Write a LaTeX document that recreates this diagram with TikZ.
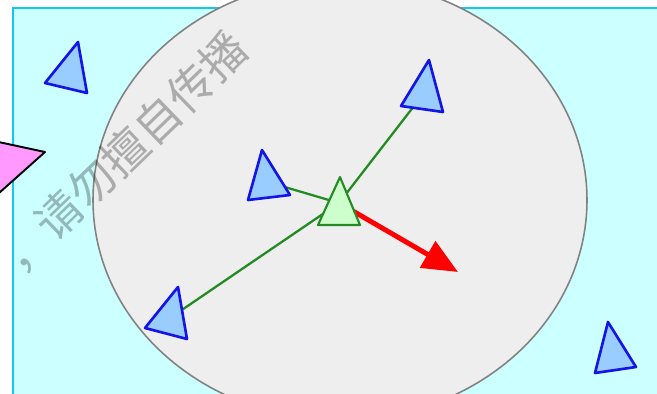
\documentclass[tikz,border=0pt]{standalone}
\usepackage{fontspec}
\newfontfamily\cjk{Noto Sans CJK SC}
\usepackage{xcolor}
\usetikzlibrary{arrows.meta}

\definecolor{bgcyan}{RGB}{204,255,255}
\definecolor{bordercyan}{RGB}{20,200,235}
\definecolor{zonegray}{RGB}{238,238,238}
\definecolor{zoneline}{RGB}{130,130,130}
\definecolor{boidfill}{RGB}{153,204,255}
\definecolor{boidline}{RGB}{20,20,230}
\definecolor{selffill}{RGB}{204,255,204}
\definecolor{selfline}{RGB}{34,139,34}
\definecolor{pinkboid}{RGB}{255,153,255}

\begin{document}
\begin{tikzpicture}[
    x=0.02cm, y=-0.02cm,
    boid/.style={draw=boidline, fill=boidfill, line width=1.5pt, line join=round},
    selfboid/.style={draw=selfline, fill=selffill, line width=1.2pt, line join=round},
    link/.style={draw=selfline, line width=1.3pt},
    velocity/.style={draw=red, line width=2.8pt, -{Triangle[length=20pt,width=17pt]}},
    watermark/.style={font=\cjk\fontsize{26}{26}\selectfont, text=black, opacity=0.28, rotate=44}
]
    \useasboundingbox (0,0) rectangle (657,393);
    \clip (0,0) rectangle (657,393);

    % Draw background and neighbourhood
    \draw[fill=bgcyan, draw=bordercyan, line width=1.2pt] (13,8) rectangle (680,420);
    \draw[fill=zonegray, draw=zoneline, line width=0.9pt] (340,200) ellipse [x radius=247, y radius=220];

    % Boid positions
    \coordinate (self) at (339,203);
    \coordinate (nbA) at (424.3,92.7);
    \coordinate (nbB) at (266.7,181.7);
    \coordinate (nbC) at (170,318);
    \coordinate (steer) at (458,272);

    % Draw connections
    \draw[link] (self) -- (nbA);
    \draw[link] (self) -- (nbB);
    \draw[link] (self) -- (nbC);
    \draw[velocity] (self) -- (steer);

    % Draw boids
    \draw[boid] (78,42) -- (45,83) -- (87,93) -- cycle;
    \draw[boid] (262,150) -- (248,200) -- (290,195) -- cycle;
    \draw[boid] (429,60) -- (401,106) -- (443,112) -- cycle;
    \draw[boid] (178,287) -- (145,328) -- (187,339) -- cycle;
    \draw[boid] (608,322) -- (595,373) -- (636,367) -- cycle;
    \draw[selfboid] (340,177) -- (318,225) -- (360,225) -- cycle;
    \draw[fill=pinkboid, draw=black, line width=1.1pt, line join=round] (-20,138) -- (45,152) -- (-20,210) -- cycle;

    \node (mark) [watermark] at (125,152) {，请勿擅自传播};
\end{tikzpicture}
\end{document}
